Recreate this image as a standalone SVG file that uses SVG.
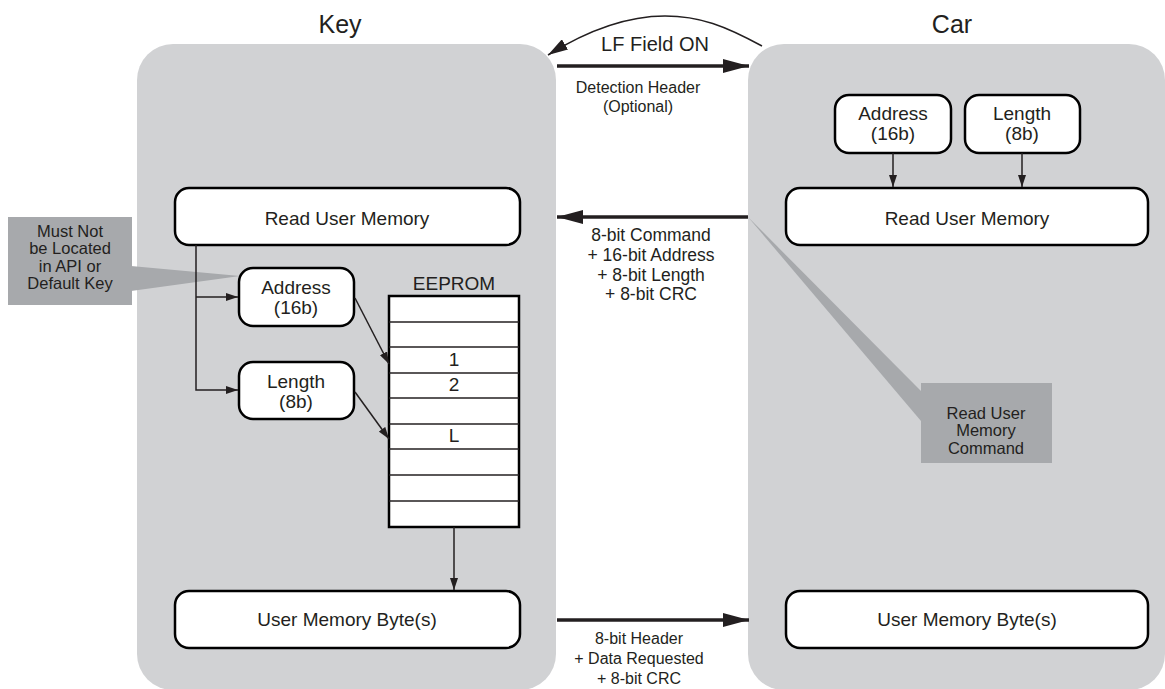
<svg xmlns="http://www.w3.org/2000/svg" width="1165" height="689" viewBox="0 0 1165 689">
<defs>
<style>
.panel{fill:#d1d2d4}
.box{fill:#fff;stroke:#000;stroke-width:2.5}
.t{font-family:"Liberation Sans",Arial,sans-serif;fill:#231f20;text-anchor:middle}
.n{font-size:19px}
.s{font-size:16.5px}
.lbl{font-size:17.5px}
.lb2{font-size:16px}
.title{font-size:25px}
.ln{stroke:#231f20;stroke-width:1.5;fill:none}
.thick{stroke:#231f20;stroke-width:3.5;fill:none}
.callout{fill:#a7a9ac}
</style>
<marker id="ah" viewBox="0 0 10 10" refX="10" refY="5" markerWidth="12" markerHeight="8" markerUnits="userSpaceOnUse" orient="auto" preserveAspectRatio="none">
<path d="M0,0 L10,5 L0,10 z" fill="#231f20"/>
</marker>
<marker id="ahb" viewBox="0 0 10 10" refX="10" refY="5" markerWidth="26" markerHeight="14" markerUnits="userSpaceOnUse" orient="auto" preserveAspectRatio="none">
<path d="M0,0 L10,5 L0,10 z" fill="#231f20"/>
</marker>
<marker id="ahc" viewBox="0 0 10 10" refX="10" refY="5" markerWidth="20" markerHeight="12" markerUnits="userSpaceOnUse" orient="auto" preserveAspectRatio="none">
<path d="M0,0 L10,5 L0,10 z" fill="#231f20"/>
</marker>
</defs>
<rect width="1165" height="689" fill="#fff"/>

<g id="key-panel">
<rect class="panel" x="137" y="44" width="419" height="646" rx="36"/>
<text class="t title" x="340" y="33">Key</text>
</g>
<g id="car-panel">
<rect class="panel" x="748" y="44" width="417" height="646" rx="36"/>
<text class="t title" x="952" y="33">Car</text>
</g>

<g id="callout-key">
<polygon class="callout" points="131,266 240,276 131,291"/>
<rect class="callout" x="8" y="217" width="124" height="88"/>
<text class="t s" x="70" y="237">Must Not</text>
<text class="t s" x="70" y="254">be Located</text>
<text class="t s" x="70" y="272">in API or</text>
<text class="t s" x="70" y="289">Default Key</text>
</g>

<g id="callout-car">
<polygon class="callout" points="748,217 921,391 921,421"/>
<rect class="callout" x="921" y="383" width="131" height="80"/>
<text class="t s" x="986" y="419">Read User</text>
<text class="t s" x="986" y="436">Memory</text>
<text class="t s" x="986" y="454">Command</text>
</g>

<g id="key-read">
<rect class="box" x="175" y="188" width="345" height="57" rx="14"/>
<text class="t n" x="347" y="225">Read User Memory</text>
</g>
<g id="key-address">
<rect class="box" x="239" y="268" width="115" height="58" rx="14"/>
<text class="t n" x="296" y="294">Address</text>
<text class="t n" x="296" y="314">(16b)</text>
</g>
<g id="key-length">
<rect class="box" x="239" y="362" width="115" height="57" rx="14"/>
<text class="t n" x="296" y="388">Length</text>
<text class="t n" x="296" y="408">(8b)</text>
</g>

<g id="eeprom">
<text class="t n" x="454" y="290">EEPROM</text>
<rect x="389" y="296" width="130" height="231" fill="#fff" stroke="#000" stroke-width="2.5"/>
<g stroke="#231f20" stroke-width="1.5">
<line x1="389" y1="322" x2="519" y2="322"/>
<line x1="389" y1="347" x2="519" y2="347"/>
<line x1="389" y1="373" x2="519" y2="373"/>
<line x1="389" y1="398" x2="519" y2="398"/>
<line x1="389" y1="424" x2="519" y2="424"/>
<line x1="389" y1="449" x2="519" y2="449"/>
<line x1="389" y1="475" x2="519" y2="475"/>
<line x1="389" y1="501" x2="519" y2="501"/>
</g>
<text class="t n" x="454" y="366">1</text>
<text class="t n" x="454" y="391">2</text>
<text class="t n" x="454" y="442">L</text>
</g>

<g id="key-bytes">
<rect class="box" x="175" y="591" width="345" height="57" rx="14"/>
<text class="t n" x="347" y="626">User Memory Byte(s)</text>
</g>

<g id="car-address">
<rect class="box" x="835" y="95" width="116" height="58" rx="14"/>
<text class="t n" x="893" y="120">Address</text>
<text class="t n" x="893" y="140">(16b)</text>
</g>
<g id="car-length">
<rect class="box" x="965" y="95" width="115" height="58" rx="14"/>
<text class="t n" x="1022" y="120">Length</text>
<text class="t n" x="1022" y="140">(8b)</text>
</g>
<g id="car-read">
<rect class="box" x="786" y="188" width="362" height="57" rx="14"/>
<text class="t n" x="967" y="225">Read User Memory</text>
</g>
<g id="car-bytes">
<rect class="box" x="786" y="591" width="362" height="57" rx="14"/>
<text class="t n" x="967" y="626">User Memory Byte(s)</text>
</g>

<g id="connectors">
<polyline class="ln" points="196,245 196,390 238,390" marker-end="url(#ah)"/>
<line class="ln" x1="196" y1="297" x2="238" y2="297" marker-end="url(#ah)"/>
<line class="ln" x1="355" y1="298" x2="389" y2="364" marker-end="url(#ah)"/>
<line class="ln" x1="355" y1="392" x2="389" y2="439" marker-end="url(#ah)"/>
<line class="ln" x1="454" y1="527" x2="454" y2="590" marker-end="url(#ah)"/>
<line class="ln" x1="893" y1="153" x2="893" y2="187" marker-end="url(#ah)"/>
<line class="ln" x1="1022" y1="153" x2="1022" y2="187" marker-end="url(#ah)"/>
<path class="ln" d="M762,46 C725,26 700,16 665,16 C625,16 585,32 548,55" marker-end="url(#ahc)"/>
<line class="thick" x1="557" y1="66" x2="749" y2="66" marker-end="url(#ahb)"/>
<line class="thick" x1="748" y1="217" x2="557" y2="217" marker-end="url(#ahb)"/>
<line class="thick" x1="557" y1="620" x2="749" y2="620" marker-end="url(#ahb)"/>
</g>

<g id="connector-labels">
<text class="t" x="655" y="51" style="font-size:20px">LF Field ON</text>
<text class="t lb2" x="638" y="93">Detection Header</text>
<text class="t lb2" x="638" y="112">(Optional)</text>
<text class="t lbl" x="651" y="241">8-bit Command</text>
<text class="t lbl" x="651" y="261">+ 16-bit Address</text>
<text class="t lbl" x="651" y="281">+ 8-bit Length</text>
<text class="t lbl" x="651" y="300">+ 8-bit CRC</text>
<text class="t lb2" x="639" y="644">8-bit Header</text>
<text class="t lb2" x="639" y="664">+ Data Requested</text>
<text class="t lb2" x="639" y="684">+ 8-bit CRC</text>
</g>
</svg>
